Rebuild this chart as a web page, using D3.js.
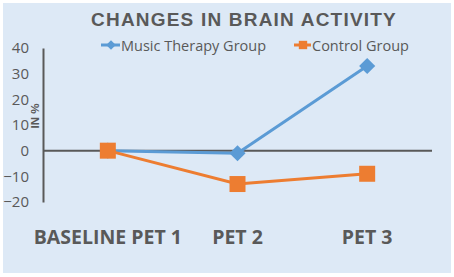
<!DOCTYPE html>
<html>
<head>
<meta charset="utf-8">
<script src="https://cdn.jsdelivr.net/npm/d3@7"></script>
<style>
  html, body { margin: 0; padding: 0; background: #fff; }
  svg { display: block; }
</style>
</head>
<body>
<svg id="chart" width="454" height="277"></svg>
<script>
// --- data
const categories = ["BASELINE PET 1", "PET 2", "PET 3"];
const musicTherapy = [0, -1, 33];
const control = [0, -13, -9];
const yTicks = [-20, -10, 0, 10, 20, 30, 40];

const series = [
  { name: "Music Therapy Group", values: musicTherapy, color: "#5b9bd5", shape: "diamond" },
  { name: "Control Group", values: control, color: "#ed7d31", shape: "square" }
];

const svg = d3.select("#chart");
const W = +svg.attr("width"), H = +svg.attr("height");
const M = { top: 48, right: 22, bottom: 75, left: 43 };
const GREY = "#595959";

// panel background
svg.append("rect").attr("x", 3).attr("y", 3).attr("width", W - 6).attr("height", H - 7)
  .attr("fill", "#dde9f6");

const x = d3.scaleBand().domain(categories).range([M.left, W - M.right]);
const y = d3.scaleLinear().domain([-20, 40]).range([202, 48]);
const cx = (d, i) => x(categories[i]) + x.bandwidth() / 2;

// title
svg.append("text").attr("x", 244).attr("y", 25.5).attr("text-anchor", "middle")
  .style("font-family", "Liberation Sans, Arial, sans-serif").style("font-weight", "bold")
  .style("font-size", "19px").style("letter-spacing", "1.2px").attr("fill", GREY)
  .text("CHANGES IN BRAIN ACTIVITY");

// y axis
const gy = svg.append("g").attr("transform", `translate(${M.left},0)`)
  .call(d3.axisLeft(y).tickValues(yTicks).tickSize(0).tickPadding(14).tickFormat(d3.format("d")));
gy.select(".domain").attr("stroke", GREY).attr("stroke-width", 2);
gy.selectAll(".tick text").attr("fill", GREY)
  .style("font-family", "Open Sans, sans-serif").style("font-size", "15px");

// y title
svg.append("text").attr("transform", `translate(39,116) rotate(-90)`).attr("text-anchor", "middle")
  .style("font-family", "Liberation Sans, Arial, sans-serif").style("font-weight", "bold")
  .style("font-size", "11.5px").attr("fill", GREY).text("IN %");

// zero line
svg.append("line").attr("x1", M.left).attr("x2", W - M.right).attr("y1", y(0)).attr("y2", y(0))
  .attr("stroke", GREY).attr("stroke-width", 2);

// category labels
svg.append("g").selectAll("text").data(categories).enter().append("text")
  .attr("x", d => x(d) + x.bandwidth() / 2).attr("y", 244).attr("text-anchor", "middle")
  .style("font-family", "Open Sans, sans-serif").style("font-weight", "bold")
  .style("font-size", "19.5px").attr("fill", GREY).text(d => d);

// series
const line = d3.line().x(cx).y(d => y(d));

series.forEach(s => {
  svg.append("path").datum(s.values).attr("d", line).attr("fill", "none")
    .attr("stroke", s.color).attr("stroke-width", 3);
  const pts = svg.append("g").selectAll("path").data(s.values).enter().append("path")
    .attr("fill", s.color);
  if (s.shape === "diamond") {
    pts.attr("d", d3.symbol().type(d3.symbolSquare).size(130))
      .attr("transform", (d, i) => `translate(${cx(d, i)},${y(d)}) rotate(45)`);
  } else {
    pts.attr("d", d3.symbol().type(d3.symbolSquare).size(256))
      .attr("transform", (d, i) => `translate(${cx(d, i)},${y(d)})`);
  }
});

// legend
const legend = [
  { s: series[0], x: 101, tx: 121 },
  { s: series[1], x: 294, tx: 312 }
];
legend.forEach(l => {
  const g = svg.append("g");
  g.append("line").attr("x1", l.x).attr("x2", l.tx - 1).attr("y1", 45).attr("y2", 45)
    .attr("stroke", l.s.color).attr("stroke-width", 3);
  const mx = (l.x + l.tx) / 2;
  if (l.s.shape === "diamond") {
    g.append("path").attr("d", d3.symbol().type(d3.symbolSquare).size(45))
      .attr("transform", `translate(${mx},45) rotate(45)`).attr("fill", l.s.color);
  } else {
    g.append("path").attr("d", d3.symbol().type(d3.symbolSquare).size(70))
      .attr("transform", `translate(${mx},45)`).attr("fill", l.s.color);
  }
  g.append("text").attr("x", l.tx).attr("y", 50.5)
    .style("font-family", "Open Sans, sans-serif").style("font-size", "14.5px")
    .attr("fill", GREY).text(l.s.name);
});
</script>
</body>
</html>
